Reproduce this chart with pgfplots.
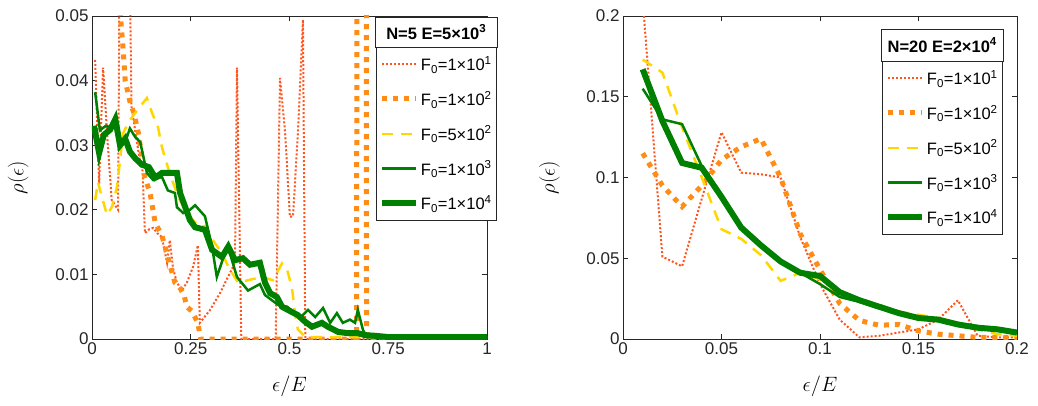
\documentclass[border=0pt]{standalone}
\usepackage[no-math]{fontspec}
\setmainfont{Liberation Sans}
\usepackage{pgfplots}
\pgfplotsset{compat=1.18}

\definecolor{axisgray}{RGB}{38,38,38}
\definecolor{cA}{RGB}{255,85,30}
\definecolor{cB}{RGB}{255,140,20}
\definecolor{cC}{RGB}{255,215,0}
\definecolor{cD}{RGB}{0,128,0}

\pgfplotsset{
  panel/.style={
    scale only axis, width=395pt, height=323pt,
    scaled ticks=false,
    axis line style={axisgray, line width=0.7pt},
    every tick/.style={axisgray, line width=0.7pt},
    tick align=inside, major tick length=5pt,
    tick label style={font=\fontsize{17}{19}\selectfont, text=axisgray},
    label style={font=\fontsize{20}{24}\selectfont},
    xlabel={$\epsilon/E$}, ylabel={$\rho(\epsilon)$},
    xlabel style={at={(axis description cs:0.5,-0.145)}, anchor=center},
    ylabel style={at={(axis description cs:-0.187,0.5)}, anchor=center},
    legend cell align=left,
    legend style={draw=axisgray, line width=0.7pt, fill=white,
      font=\fontsize{16.5}{19}\selectfont, row sep=15pt,
      inner xsep=3pt, inner ysep=7pt,
      /tikz/every even column/.append style={column sep=2pt}},
    legend image code/.code={\draw[##1] (0pt,0pt) -- (34pt,0pt);},
  },
  sA/.style={cA, line width=2pt, dash pattern=on 2pt off 2pt},
  sB/.style={cB, line width=5pt, dash pattern=on 5pt off 6pt},
  sC/.style={cC, line width=2.5pt, dash pattern=on 11pt off 8pt},
  sD/.style={cD, line width=2.5pt},
  sE/.style={cD, line width=6pt},
}

\pgfplotstableread{
x     fa     fb      fc     fd     fe
0.01  0.210  0.115   0.173  0.155  0.167
0.02  0.051  0.095   0.165  0.136  0.135
0.03  0.045  0.082   0.131  0.133  0.109
0.04  0.087  0.095   0.100  0.107  0.106
0.05  0.128  0.111   0.068  0.088  0.088
0.06  0.103  0.119   0.062  0.070  0.069
0.07  0.102  0.124   0.052  0.058  0.058
0.08  0.100  0.100   0.036  0.048  0.048
0.09  0.063  0.065   0.041  0.041  0.041
0.10  0.034  0.043   0.037  0.034  0.039
0.11  0.012  0.022   0.028  0.026  0.029
0.12  0.001  0.0115  0.023  0.023  0.024
0.13  0.002  0.0085  0.021  0.019  0.020
0.14  0.004  0.009   0.017  0.016  0.016
0.15  0.006  0.005   0.015  0.013  0.013
0.16  0.012  0.003   0.013  0.012  0.012
0.17  0.024  0.002   0.010  0.009  0.009
0.18  0.002  0.001   0.006  0.008  0.007
0.19  0.001  0.001   0.003  0.006  0.006
0.20  0.001  0.001   0.002  0.004  0.004
}\rightdata

\begin{document}
\begin{tikzpicture}
\useasboundingbox (0,0) rectangle (1038pt,405pt);

% ---- N = 5 ----
\begin{axis}[panel, at={(92pt,66pt)}, anchor=south west,
  xmin=0, xmax=1, ymin=0, ymax=0.05,
  xtick={0,0.25,0.5,0.75,1}, xticklabels={0,0.25,0.5,0.75,1},
  ytick={0,0.01,0.02,0.03,0.04,0.05},
  yticklabels={0,0.01,0.02,0.03,0.04,0.05},
  legend style={name=legA, at={(axis description cs:1.0253,0.904)}, anchor=north east}]
\addplot[sA] coordinates {
(0.008,0.0432) (0.018,0.024) (0.028,0.042) (0.040,0.030) (0.050,0.0215)
(0.066,0.020) (0.070,0.060) (0.095,0.060) (0.100,0.036) (0.110,0.032)
(0.120,0.028) (0.128,0.026) (0.134,0.0164) (0.145,0.017) (0.155,0.0172)
(0.165,0.0164) (0.177,0.0158) (0.190,0.0118) (0.197,0.0153) (0.205,0.011)
(0.215,0.0087) (0.228,0.0076) (0.240,0.0087) (0.256,0.0112) (0.268,0.0145)
(0.273,0.0025) (0.299,0.0045) (0.324,0.0071) (0.349,0.0102) (0.362,0.0118)
(0.367,0.0420) (0.378,0) (0.465,0) (0.476,0.0404) (0.489,0.0319)
(0.501,0.0189) (0.509,0.0190) (0.522,0.0328) (0.534,0.0494) (0.540,0) (1,0)};
\addlegendentry{F\textsubscript{0}=1\texttimes10\textsuperscript{1}}
\addplot[sB] coordinates {
(0.060,0.090) (0.072,0.050) (0.079,0.0447) (0.084,0.040) (0.097,0.0365)
(0.106,0.035) (0.117,0.032) (0.134,0.025) (0.147,0.0226) (0.160,0.018)
(0.177,0.016) (0.185,0.0143) (0.197,0.0115) (0.210,0.0087) (0.220,0.0082)
(0.233,0.0068) (0.240,0.005) (0.253,0.0043) (0.268,0.0025) (0.275,0)
(0.670,0) (0.675,0.6) (0.690,0.6) (0.695,0) (1,0)};
\addlegendentry{F\textsubscript{0}=1\texttimes10\textsuperscript{2}}
\addplot[sC] coordinates {
(0.008,0.0215) (0.015,0.0243) (0.025,0.022) (0.038,0.0192) (0.051,0.0205)
(0.063,0.0235) (0.071,0.0277) (0.079,0.0319) (0.096,0.0339) (0.122,0.036)
(0.139,0.0373) (0.152,0.035) (0.167,0.0328) (0.177,0.0297) (0.192,0.0266)
(0.203,0.0246) (0.218,0.022) (0.240,0.0195) (0.256,0.0184) (0.273,0.0173)
(0.286,0.0175) (0.306,0.0153) (0.329,0.0133) (0.345,0.0112) (0.370,0.0087)
(0.395,0.0091) (0.430,0.0096) (0.458,0.0091) (0.481,0.0117) (0.494,0.0107)
(0.506,0.008) (0.514,0.004) (0.521,0.0015) (0.540,0.0003) (1,0.0003)};
\addlegendentry{F\textsubscript{0}=5\texttimes10\textsuperscript{2}}
\addplot[sD] coordinates {
(0.008,0.0382) (0.020,0.0323) (0.035,0.033) (0.045,0.0328) (0.058,0.0344)
(0.071,0.0297) (0.084,0.0305) (0.096,0.0326) (0.109,0.0313) (0.122,0.0305)
(0.139,0.0257) (0.155,0.0246) (0.177,0.0251) (0.192,0.023) (0.210,0.0226)
(0.215,0.0204) (0.231,0.0195) (0.248,0.020) (0.261,0.0207) (0.286,0.0190)
(0.304,0.0143) (0.316,0.0096) (0.332,0.0125) (0.345,0.0141) (0.367,0.0096)
(0.395,0.0075) (0.425,0.0085) (0.438,0.0068) (0.471,0.0053) (0.494,0.005)
(0.514,0.004) (0.530,0.0035) (0.547,0.0045) (0.565,0.0034) (0.585,0.0048)
(0.603,0.0025) (0.620,0.004) (0.635,0.0025) (0.653,0.003) (0.666,0.0025)
(0.673,0.0045) (0.686,0.0014) (0.696,0.0003) (1,0.0003)};
\addlegendentry{F\textsubscript{0}=1\texttimes10\textsuperscript{3}}
\addplot[sE] coordinates {
(0.005,0.033) (0.018,0.0288) (0.030,0.0316) (0.046,0.0324) (0.059,0.034)
(0.071,0.030) (0.084,0.031) (0.096,0.029) (0.109,0.028) (0.126,0.027)
(0.144,0.0266) (0.160,0.025) (0.177,0.0257) (0.198,0.0257) (0.215,0.0257)
(0.223,0.0226) (0.248,0.0184) (0.261,0.0173) (0.286,0.0169) (0.304,0.0138)
(0.329,0.0127) (0.345,0.0143) (0.362,0.0122) (0.382,0.0125) (0.400,0.0115)
(0.425,0.0118) (0.438,0.0087) (0.451,0.0071) (0.468,0.0065) (0.481,0.005)
(0.496,0.0045) (0.521,0.0037) (0.539,0.0027) (0.557,0.0019) (0.582,0.0025)
(0.597,0.0019) (0.623,0.0011) (0.648,0.0009) (0.673,0.0009) (0.691,0.0006)
(0.716,0.0005) (0.750,0.0003) (1,0.0003)};
\addlegendentry{F\textsubscript{0}=1\texttimes10\textsuperscript{4}}
\end{axis}
\draw[axisgray, line width=0.7pt, fill=white] (legA.north west) rectangle ([yshift=30pt]legA.north east);
\node[font=\fontsize{16.5}{19}\selectfont\bfseries, text=black] at ([yshift=15pt]legA.north) {N=5 E=5\texttimes10\textsuperscript{3}};

% ---- N = 20 ----
\begin{axis}[panel, at={(623pt,66pt)}, anchor=south west, width=394pt,
  xmin=0, xmax=0.2, ymin=0, ymax=0.2,
  xtick={0,0.05,0.1,0.15,0.2}, xticklabels={0,0.05,0.1,0.15,0.2},
  ytick={0,0.05,0.1,0.15,0.2}, yticklabels={0,0.05,0.1,0.15,0.2},
  legend style={name=legB, at={(axis description cs:0.9645,0.8607)}, anchor=north east}]
\addplot[sA] table[x=x, y=fa] {\rightdata};
\addlegendentry{F\textsubscript{0}=1\texttimes10\textsuperscript{1}}
\addplot[sB] table[x=x, y=fb] {\rightdata};
\addlegendentry{F\textsubscript{0}=1\texttimes10\textsuperscript{2}}
\addplot[sC] table[x=x, y=fc] {\rightdata};
\addlegendentry{F\textsubscript{0}=5\texttimes10\textsuperscript{2}}
\addplot[sD] table[x=x, y=fd] {\rightdata};
\addlegendentry{F\textsubscript{0}=1\texttimes10\textsuperscript{3}}
\addplot[sE] table[x=x, y=fe] {\rightdata};
\addlegendentry{F\textsubscript{0}=1\texttimes10\textsuperscript{4}}
\end{axis}
\draw[axisgray, line width=0.7pt, fill=white] (legB.north west) rectangle ([yshift=32pt]legB.north east);
\node[font=\fontsize{16.5}{19}\selectfont\bfseries, text=black] at ([yshift=16pt]legB.north) {N=20 E=2\texttimes10\textsuperscript{4}};
\end{tikzpicture}
\end{document}
